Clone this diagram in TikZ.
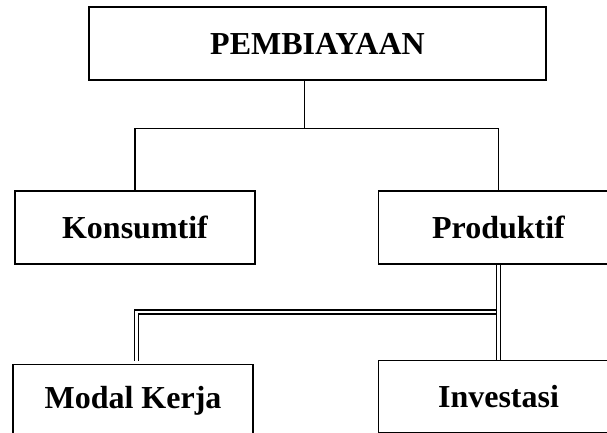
\documentclass[tikz,border=0pt]{standalone}
\usepackage{fontspec}
\setmainfont{Liberation Serif}
\usetikzlibrary{calc}
\usetikzlibrary{positioning}

\begin{document}
\begin{tikzpicture}[x=1pt,y=1pt]
\fontsize{32}{38}\selectfont

\tikzset{every node/.style={line width=1.5pt, draw=black, align=center, font=\bfseries, inner sep=0pt, minimum height=73pt, minimum width=240pt}}
\tikzset{dbl/.style={line width=1.5pt, double=white, double distance=2.5pt}}

\useasboundingbox (0,0) rectangle (607,-433);

\node[minimum width=457pt] (pembiayaan) at (317.5,-43.5) {PEMBIAYAAN};

\node (konsumtif) at (135,-227.5) {Konsumtif};
\node[right=122pt of konsumtif] (produktif) {Produktif};

\node[below=99pt of konsumtif, xshift=-2pt] (modalkerja) {Modal Kerja};
\node[below=95pt of produktif, minimum height=72pt] (investasi) {Investasi};

\coordinate (topdrop) at ($(pembiayaan.south west)+(216pt,0)$);
\coordinate (bar) at ($(topdrop)+(0,-48pt)$);
\coordinate (dblbar) at ($(produktif.south)+(0,-47pt)$);
\coordinate (modaltop) at ($(modalkerja.north)+(3.5pt,3pt)$);

\draw[line width=1.1pt] (pembiayaan.south -| topdrop) -- (bar)
	(konsumtif.north) |- (bar) -| (produktif.north);

\draw[dbl] (dblbar) -| (modaltop);
\draw[dbl] (produktif.south) -- (produktif.south |- investasi.north);
\end{tikzpicture}
\end{document}
